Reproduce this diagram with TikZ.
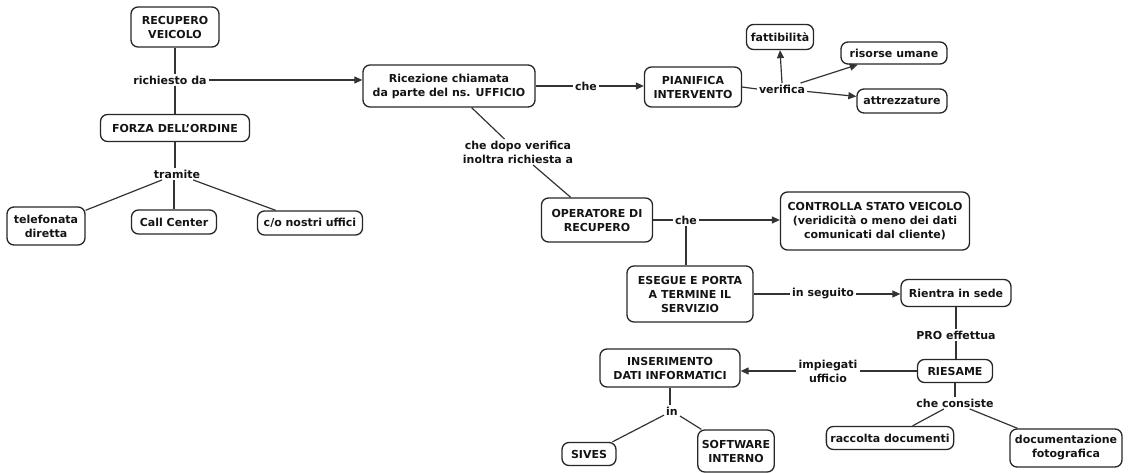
\documentclass[tikz,border=0pt]{standalone}
\usepackage{fontspec}
\setmainfont{DejaVu Sans}
\usetikzlibrary{arrows.meta}
\begin{document}
\begin{tikzpicture}[x=1pt,y=-1pt,
  txt/.style={font=\bfseries\fontsize{11}{14}\selectfont, text=black!92, align=center},
  box/.style={txt, draw=black!85, line width=1.3pt, rounded corners=7pt, inner xsep=4pt, inner ysep=2pt},
  lbl/.style={txt, inner xsep=2pt, inner ysep=1.5pt},
  ln/.style={draw=black!80, line width=1.2pt},
  arr/.style={ln, -{Triangle[length=8pt,width=7pt]}}]
\useasboundingbox (0,0) rectangle (1130,473);
% nodes
\node[box, minimum width=88pt, minimum height=40pt] (rec) at (175,27) {RECUPERO\\VEICOLO};
\node[lbl] (richiesto) at (170,80) {richiesto da};
\node[box, minimum width=149pt, minimum height=27pt] (forza) at (175,128) {FORZA DELL'ORDINE};
\node[lbl] (tramite) at (177,174) {tramite};
\node[box, minimum width=78pt, minimum height=38pt] (tel) at (46,226) {telefonata\\diretta};
\node[box, minimum width=85pt, minimum height=24pt] (call) at (174,222) {Call Center};
\node[box, minimum width=105pt, minimum height=24pt] (co) at (310,223) {c/o nostri uffici};
\node[box, minimum width=172pt, minimum height=42pt] (ric) at (449,86) {Ricezione chiamata\\da parte del ns. UFFICIO};
\node[lbl] (che1) at (586,86) {che};
\node[box, minimum width=97pt, minimum height=40pt] (pian) at (693,87) {PIANIFICA\\INTERVENTO};
\node[lbl] (verifica) at (782,89) {verifica};
\node[box, minimum width=67pt, minimum height=25pt] (fatt) at (780,37) {fattibilità};
\node[box, minimum width=106pt, minimum height=22pt] (ris) at (894,53) {risorse umane};
\node[box, minimum width=90pt, minimum height=24pt] (attr) at (902,101) {attrezzature};
\node[lbl] (chedopo) at (518,152) {che dopo verifica\\inoltra richiesta a};
\node[box, minimum width=111pt, minimum height=44pt] (oper) at (597,220) {OPERATORE DI\\RECUPERO};
\node[lbl] (che2) at (686,220) {che};
\node[box, minimum width=189pt, minimum height=58pt] (contr) at (875,221) {CONTROLLA STATO VEICOLO\\(veridicità o meno dei dati\\comunicati dal cliente)};
\node[box, minimum width=126pt, minimum height=56pt] (eseg) at (690,294) {ESEGUE E PORTA\\A TERMINE IL\\SERVIZIO};
\node[lbl] (seguito) at (823,294) {in seguito};
\node[box, minimum width=110pt, minimum height=27pt] (rientra) at (956,293) {Rientra in sede};
\node[lbl] (pro) at (956,335) {PRO effettua};
\node[box, minimum width=75pt, minimum height=23pt] (riesame) at (955,371) {RIESAME};
\node[lbl] (impiegati) at (828,371) {impiegati\\ufficio};
\node[box, minimum width=140pt, minimum height=38pt] (ins) at (670,368) {INSERIMENTO\\DATI INFORMATICI};
\node[lbl] (in) at (672,411) {in};
\node[box, minimum width=54pt, minimum height=23pt] (sives) at (589,454) {SIVES};
\node[box, minimum width=76pt, minimum height=42pt] (soft) at (736,451) {SOFTWARE\\INTERNO};
\node[lbl] (consiste) at (955,403) {che consiste};
\node[box, minimum width=120pt, minimum height=23pt] (racc) at (890,438) {raccolta documenti};
\node[box, minimum width=112pt, minimum height=38pt] (doc) at (1066,448) {documentazione\\fotografica};
% connectors
\draw[ln] (rec.south) -- (rec.south |- richiesto.north);
\draw[ln] (forza.north |- richiesto.south) -- (forza.north);
\draw[arr] (richiesto.east) -- (richiesto.east -| ric.west);
\draw[ln] (forza.south) -- (forza.south |- tramite.north);
\draw[ln] (tramite) -- (tel);
\draw[ln] (tramite.south -| call.north) -- (call.north);
\draw[ln] (tramite) -- (co);
\draw[ln] (ric.east) -- (che1.west);
\draw[arr] (che1.east) -- (che1.east -| pian.west);
\draw[ln] (pian.east) -- (verifica.west);
\draw[arr] (verifica.north) -- (fatt.south);
\draw[arr] (verifica) -- (ris);
\draw[arr] (verifica) -- (attr);
\draw[ln] (ric) -- (chedopo);
\draw[ln] (chedopo) -- (oper);
\draw[ln] (oper.east) -- (che2.west);
\draw[arr] (che2.east) -- (che2.east -| contr.west);
\draw[ln] (che2.south) -- (che2.south |- eseg.north);
\draw[ln] (eseg.east) -- (seguito.west);
\draw[arr] (seguito.east) -- (seguito.east -| rientra.west);
\draw[ln] (rientra.south) -- (pro.north);
\draw[ln] (pro.south) -- (pro.south |- riesame.north);
\draw[ln] (riesame.west) -- (riesame.west -| impiegati.east);
\draw[arr] (impiegati.west) -- (impiegati.west -| ins.east);
\draw[ln] (ins.south) -- (ins.south |- in.north);
\draw[ln] (in) -- (sives);
\draw[ln] (in) -- (soft);
\draw[ln] (riesame.south) -- (riesame.south |- consiste.north);
\draw[ln] (consiste) -- (racc);
\draw[ln] (consiste) -- (doc);
\end{tikzpicture}
\end{document}
